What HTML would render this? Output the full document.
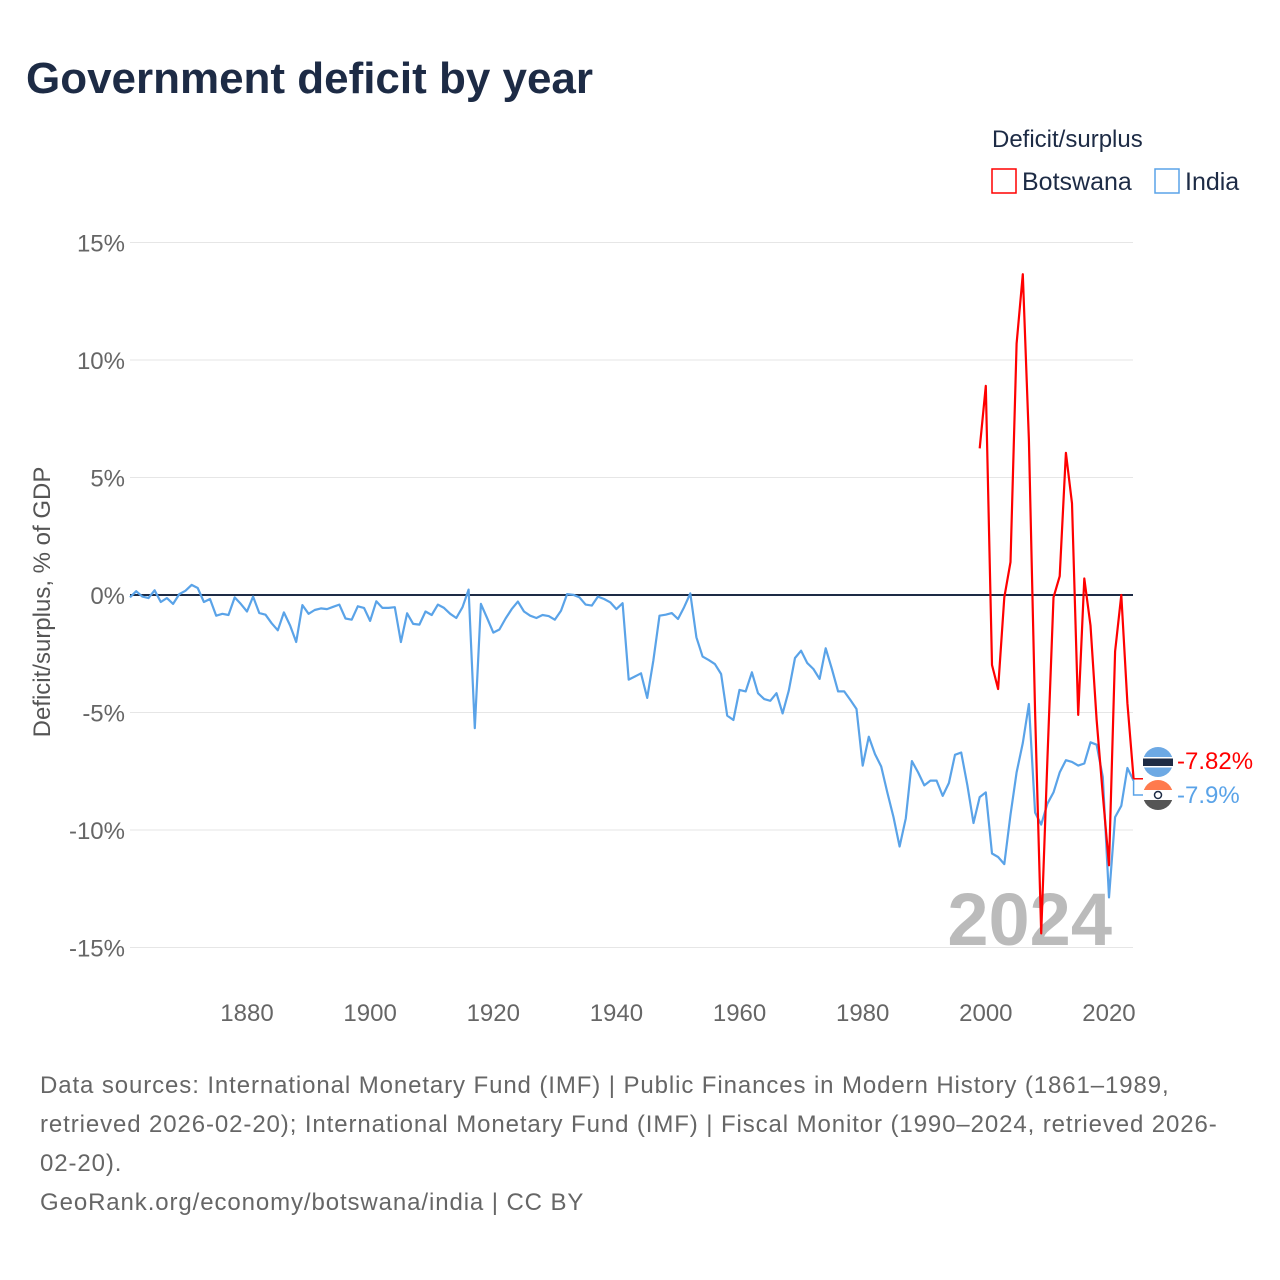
<!DOCTYPE html>
<html><head><meta charset="utf-8"><style>
body{margin:0;background:#fff;font-family:"Liberation Sans",sans-serif;}
#wrap{position:relative;width:1280px;height:1280px;overflow:hidden;}
</style></head><body>
<div id="wrap">
<svg id="chart" width="1280" height="1280" xmlns="http://www.w3.org/2000/svg">
<text x="26" y="93" font-size="44" font-weight="bold" fill="#1d2b45" textLength="567">Government deficit by year</text>
<text x="992" y="147" font-size="24" fill="#1d2b45">Deficit/surplus</text>
<g><rect x="992" y="169" width="24" height="24" fill="#fff" stroke="#ff0000" stroke-width="1.5"/><text x="1022" y="190" font-size="25" fill="#1d2b45">Botswana</text></g>
<g><rect x="1155" y="169" width="24" height="24" fill="#fff" stroke="#5aa3e8" stroke-width="1.5"/><text x="1185" y="190" font-size="25" fill="#1d2b45">India</text></g>
<text transform="translate(50,602) rotate(-90)" text-anchor="middle" font-size="24" fill="#555">Deficit/surplus, % of GDP</text>
<g id="grid"></g><g id="xt"></g>
<text x="1112" y="945" text-anchor="end" font-size="74" font-weight="bold" fill="#bbbbbb">2024</text>
<g id="series"></g>
<g id="labels"></g>
<text font-size="24" fill="#666" letter-spacing="0.9">
<tspan x="40" y="1093">Data sources: International Monetary Fund (IMF) | Public Finances in Modern History (1861–1989,</tspan>
<tspan x="40" y="1132">retrieved 2026-02-20); International Monetary Fund (IMF) | Fiscal Monitor (1990–2024, retrieved 2026-</tspan>
<tspan x="40" y="1171">02-20).</tspan>
<tspan x="40" y="1210">GeoRank.org/economy/botswana/india | CC BY</tspan>
</text>
</svg>
</div>
<script>
const yTicks=[15,10,5,0,-5,-10,-15];
const xTicks=[1880,1900,1920,1940,1960,1980,2000,2020];
const indiaStart=1861;
const indiaValues=[-0.1,0.16,-0.07,-0.13,0.2,-0.3,-0.13,-0.38,0.04,0.18,0.43,0.3,-0.3,-0.17,-0.88,-0.8,-0.85,-0.1,-0.38,-0.7,
-0.07,-0.77,-0.84,-1.2,-1.5,-0.74,-1.3,-2.0,-0.43,-0.8,-0.64,-0.57,-0.6,-0.5,-0.41,-1.0,-1.05,-0.48,-0.55,-1.1,
-0.27,-0.55,-0.55,-0.52,-2.0,-0.78,-1.23,-1.26,-0.7,-0.85,-0.41,-0.55,-0.8,-0.98,-0.52,0.23,-5.67,-0.38,-0.98,-1.6,
-1.47,-1.0,-0.6,-0.28,-0.7,-0.88,-0.98,-0.85,-0.9,-1.05,-0.67,0.04,0.01,-0.1,-0.41,-0.45,-0.07,-0.17,-0.31,-0.6,
-0.35,-3.6,-3.47,-3.33,-4.38,-2.8,-0.88,-0.84,-0.77,-1.02,-0.52,0.07,-1.8,-2.62,-2.77,-2.94,-3.36,-5.13,-5.32,-4.04,
-4.1,-3.29,-4.18,-4.43,-4.5,-4.18,-5.04,-4.07,-2.68,-2.37,-2.9,-3.15,-3.57,-2.27,-3.15,-4.1,-4.1,-4.47,-4.85,-7.26,
-6.03,-6.77,-7.3,-8.4,-9.45,-10.7,-9.5,-7.07,-7.55,-8.1,-7.9,-7.9,-8.55,-8.0,-6.8,-6.7,-8.1,-9.7,-8.6,-8.4,
-11.0,-11.15,-11.45,-9.35,-7.55,-6.3,-4.64,-9.26,-9.77,-8.88,-8.4,-7.55,-7.03,-7.1,-7.26,-7.17,-6.27,-6.37,-7.74,-12.87,
-9.45,-8.97,-7.36,-7.9];
const botswanaStart=1999;
const botswanaValues=[6.24,8.9,-2.98,-4.0,-0.1,1.4,10.7,13.65,6.6,-5.0,-14.4,-7.0,-0.1,0.8,6.05,3.9,-5.1,0.7,-1.3,-5.3,-8.5,-11.5,-2.4,0,-4.6,-7.82];
const NS='http://www.w3.org/2000/svg';
const x=yr=>130+(yr-1861)*6.157;
const y=v=>595-v*23.5;
function mk(t,a,p){const e=document.createElementNS(NS,t);for(const k in a)e.setAttribute(k,a[k]);p.appendChild(e);return e;}
const grid=document.getElementById('grid');
yTicks.forEach(v=>{
  const l=mk('line',{x1:130,x2:1133,y1:y(v),y2:y(v),stroke:v===0?'#1d2b45':'#e6e6e6','stroke-width':v===0?2:1},grid);
  
  
  const t=mk('text',{x:125,y:y(v)+9,'text-anchor':'end','font-size':24,fill:'#666'},grid);
  t.textContent=v+'%';
  
  
});
const xt=document.getElementById('xt');
xTicks.forEach(yr=>{
  const t=mk('text',{x:x(yr),y:1021,'text-anchor':'middle','font-size':24,fill:'#666'},xt);
  t.textContent=yr;
  
  
});
const s=document.getElementById('series');
function line(vals,start,col,name){
  const pts=vals.map((v,i)=>x(start+i).toFixed(1)+','+y(v).toFixed(1)).join(' ');
  const p=mk('polyline',{points:pts,fill:'none',stroke:col,'stroke-width':2.2,'stroke-linejoin':'round'},s);
  
  
}
line(indiaValues,indiaStart,'#5aa3e8','india-line');
line(botswanaValues,botswanaStart,'#ff0000','botswana-line');
const lb=document.getElementById('labels');
const bv=botswanaValues[botswanaValues.length-1], iv=indiaValues[indiaValues.length-1];
const bx=x(2024);
mk('polyline',{points:`${bx},${y(bv)} 1143,${y(bv)}`,stroke:'#ff0000',fill:'none','stroke-width':1.5},lb);
mk('polyline',{points:`${bx},${y(iv)} ${bx},795 1143,795`,stroke:'#5aa3e8',fill:'none','stroke-width':1.5},lb);
const f1=mk('g',{},lb);


mk('circle',{cx:1158,cy:762,r:15,fill:'#6da9e4'},f1);
mk('rect',{x:1143,y:758,width:30,height:8,fill:'#1d2b45'},f1);
mk('rect',{x:1143,y:757,width:30,height:1.5,fill:'#fff'},f1);
mk('rect',{x:1143,y:766,width:30,height:1.5,fill:'#fff'},f1);
const f2=mk('g',{},lb);


mk('path',{d:'M1143,795 A15,15 0 0 1 1173,795 Z',fill:'#ff7a4d'},f2);
mk('path',{d:'M1143,795 A15,15 0 0 0 1173,795 Z',fill:'#555'},f2);
mk('rect',{x:1143,y:790,width:30,height:10,fill:'#fff'},f2);
mk('circle',{cx:1158,cy:795,r:3.5,fill:'none',stroke:'#1d2b45','stroke-width':1.5},f2);
const t1=mk('text',{x:1177,y:769,'font-size':24,fill:'#ff0000'},lb);
t1.textContent=bv+'%';


const t2=mk('text',{x:1177,y:803,'font-size':24,fill:'#5aa3e8'},lb);
t2.textContent=iv+'%';


</script>
</body></html>
